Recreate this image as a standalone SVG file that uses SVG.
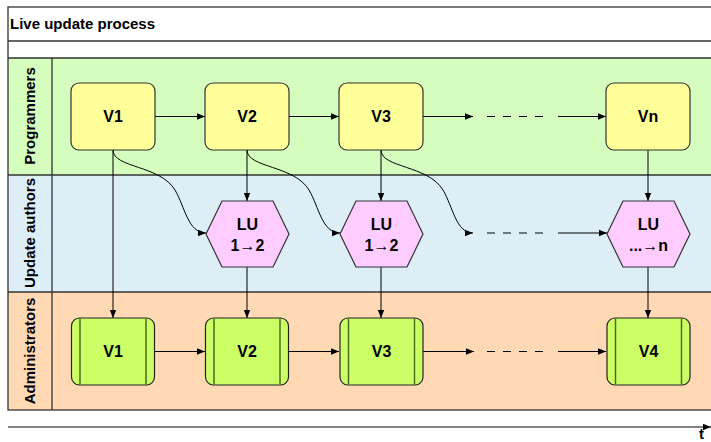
<svg xmlns="http://www.w3.org/2000/svg" width="711" height="442" viewBox="0 0 711 442">
<style>
text{font-family:"Liberation Sans",Arial,sans-serif;font-weight:bold;fill:#000}
.frame{fill:none;stroke:#333;stroke-width:1.3}
.ver{fill:#ffff99;stroke:#333;stroke-width:1.2}
.lu{fill:#ffccff;stroke:#333;stroke-width:1.2}
.rel{fill:#ccff66;stroke:#222;stroke-width:1.2}
.inner{stroke:#4d6b1f;stroke-width:1.5}
.c{fill:none;stroke:#000;stroke-width:1}
.d{fill:none;stroke:#000;stroke-width:1;stroke-dasharray:8 8}
.nt{font-size:16px;text-anchor:middle}
.ln{font-size:15px;text-anchor:middle}
</style>
<defs>
<marker id="a" viewBox="0 0 10 10" refX="10" refY="5" markerWidth="8" markerHeight="8" markerUnits="userSpaceOnUse" orient="auto"><path d="M0,1 L10,5 L0,9 Z" fill="#000"/></marker>
</defs>
<rect x="0" y="0" width="711" height="442" fill="#fff"/>
<g id="pool">
<rect x="8" y="58" width="712" height="117" fill="#d4fdbe"/>
<rect x="8" y="175" width="712" height="117" fill="#ddeef6"/>
<rect x="8" y="292" width="712" height="118" fill="#fed9b4"/>
<rect class="frame" x="8" y="7" width="712" height="403"/>
<path class="frame" d="M8,41H720M8,58H720M8,175H720M8,292H720M52,58V410"/>
<text x="10" y="29" style="font-size:15px">Live update process</text>
</g>
<g id="lane-programmers"><text class="ln" transform="translate(35,116) rotate(-90)">Programmers</text></g>
<g id="lane-authors"><text class="ln" transform="translate(35,233) rotate(-90)">Update authors</text></g>
<g id="lane-admins"><text class="ln" transform="translate(35,351) rotate(-90)">Administrators</text></g>
<g id="connectors">
<path class="c" marker-end="url(#a)" d="M155,116.5H205"/>
<path class="c" marker-end="url(#a)" d="M289,116.5H339"/>
<path class="c" marker-end="url(#a)" d="M423,116.5H473"/>
<path class="d" d="M487,116.5H543"/>
<path class="c" marker-end="url(#a)" d="M558,116.5H606"/>
<path class="c" marker-end="url(#a)" d="M113,150V318"/>
<path class="c" marker-end="url(#a)" d="M247,150V201"/>
<path class="c" marker-end="url(#a)" d="M381,150V201"/>
<path class="c" marker-end="url(#a)" d="M648,150V201"/>
<path class="c" marker-end="url(#a)" d="M247,267V318"/>
<path class="c" marker-end="url(#a)" d="M381,267V318"/>
<path class="c" marker-end="url(#a)" d="M648,267V318"/>
<path class="c" marker-end="url(#a)" d="M113,150C113,168 160,165 175,190C185,207 188,233 206,233"/>
<path class="c" marker-end="url(#a)" d="M247,150C247,168 294,165 309,190C319,207 322,233 340,233"/>
<path class="c" marker-end="url(#a)" d="M381,150C381,168 428,165 443,190C453,207 456,233 473,233"/>
<path class="d" d="M487,233H543"/>
<path class="c" marker-end="url(#a)" d="M558,233H607"/>
<path class="c" marker-end="url(#a)" d="M155,351.5H205"/>
<path class="c" marker-end="url(#a)" d="M289,351.5H339"/>
<path class="c" marker-end="url(#a)" d="M423,351.5H474"/>
<path class="d" d="M487,351.5H543"/>
<path class="c" marker-end="url(#a)" d="M558,351.5H606"/>
<path class="c" marker-end="url(#a)" d="M8,427H711"/>
</g>
<g id="v1"><rect class="ver" x="71" y="83" width="84" height="67" rx="8"/><text class="nt" x="113" y="122">V1</text></g>
<g id="v2"><rect class="ver" x="205" y="83" width="84" height="67" rx="8"/><text class="nt" x="247" y="122">V2</text></g>
<g id="v3"><rect class="ver" x="339" y="83" width="84" height="67" rx="8"/><text class="nt" x="381" y="122">V3</text></g>
<g id="vn"><rect class="ver" x="606" y="83" width="84" height="67" rx="8"/><text class="nt" x="648" y="122">Vn</text></g>
<g id="lu1"><polygon class="lu" points="206,234 222,201 273,201 289,234 273,267 222,267"/><text class="nt" x="247.5" y="230">LU</text><text class="nt" x="247.5" y="251">1→2</text></g>
<g id="lu2"><polygon class="lu" points="340,234 356,201 407,201 423,234 407,267 356,267"/><text class="nt" x="381.5" y="230">LU</text><text class="nt" x="381.5" y="251">1→2</text></g>
<g id="lun"><polygon class="lu" points="607,234 623,201 674,201 690,234 674,267 623,267"/><text class="nt" x="648.5" y="230">LU</text><text class="nt" x="648.5" y="251">...→n</text></g>
<g id="r1"><rect class="rel" x="71.5" y="318" width="83" height="67" rx="8"/><path class="inner" d="M80,318.5V384.5M146,318.5V384.5"/><text class="nt" x="113" y="357">V1</text></g>
<g id="r2"><rect class="rel" x="205.5" y="318" width="83" height="67" rx="8"/><path class="inner" d="M214,318.5V384.5M280,318.5V384.5"/><text class="nt" x="247" y="357">V2</text></g>
<g id="r3"><rect class="rel" x="340" y="318" width="83" height="67" rx="8"/><path class="inner" d="M348.5,318.5V384.5M414.5,318.5V384.5"/><text class="nt" x="381.5" y="357">V3</text></g>
<g id="r4"><rect class="rel" x="607" y="318" width="83" height="67" rx="8"/><path class="inner" d="M615.5,318.5V384.5M681.5,318.5V384.5"/><text class="nt" x="648.5" y="357">V4</text></g>
<text x="699" y="439" style="font-size:15px">t</text>
</svg>
